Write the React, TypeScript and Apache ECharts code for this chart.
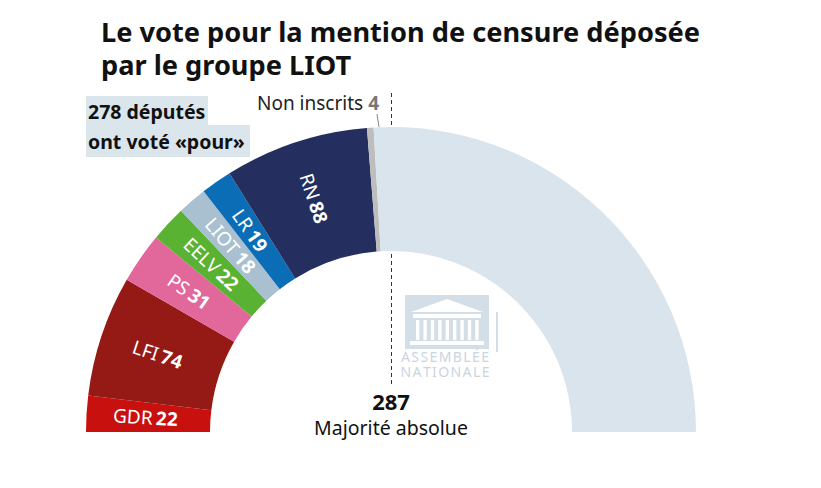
import React, { useEffect, useRef } from "react";
import * as echarts from "echarts";

const groups = ["GDR", "LFI", "PS", "EELV", "LIOT", "LR", "RN", "Non inscrits"];
const seats = [22, 74, 31, 22, 18, 19, 88, 4];
const groupColors = ["#c8100f", "#951914", "#e2679b", "#5ab232", "#a8c0cf", "#0b6db6", "#252f5f", "#bdbdbd"];
const totalSeats = 577;
const majority = 287;
const restColor = "#dae4ec";
const titleLines = ["Le vote pour la mention de censure déposée", "par le groupe LIOT"];
const logoLines = ["ASSEMBLÉE", "NATIONALE"];

const FONT = "'Noto Sans', sans-serif";

export default function App() {
  const ref = useRef<HTMLDivElement>(null);
  useEffect(() => {
    if (!ref.current) return;
    const chart = echarts.init(ref.current, null, { renderer: "svg" });
    const votedFor = seats.reduce((a, b) => a + b, 0);
    const rest = totalSeats - votedFor;
    const cx = 391;
    const cy = 432;
    const rIn = 181;
    const rOut = 305;

    const data = groups.map((g, i) => ({
      name: g,
      value: seats[i],
      itemStyle: { color: groupColors[i] },
      label: { show: g !== "Non inscrits" },
    }));
    data.push({ name: "rest", value: rest, itemStyle: { color: restColor }, label: { show: false } });

    const niIdx = groups.indexOf("Non inscrits");
    const niSeats = seats[niIdx];

    const logoText = logoLines.map((l) => l.split("").join("\u200A")).join("\n");

    chart.setOption({
      animation: false,
      title: {
        text: titleLines.join("\n"),
        left: 96,
        top: 10,
        textStyle: { fontFamily: FONT, fontSize: 27.2, fontWeight: "bold", color: "#111", lineHeight: 33 },
      },
      series: [
        {
          type: "pie",
          center: [cx, cy],
          radius: [rIn, rOut],
          startAngle: 180,
          endAngle: 0,
          clockwise: true,
          silent: true,
          sort: null,
          data,
          itemStyle: { borderWidth: 0 },
          label: {
            position: "inside",
            rotate: "radial",
            formatter: "{n|{b}} {v|{c}}",
            color: "#fff",
            rich: {
              n: { fontFamily: FONT, fontSize: 19, color: "#fff" },
              v: { fontFamily: FONT, fontSize: 19, color: "#fff", fontWeight: "bold" },
            },
          },
          labelLine: { show: false },
        },
      ],
      graphic: [
        // majority line
        {
          type: "line",
          shape: { x1: cx + 0.5, y1: 93, x2: cx + 0.5, y2: 386 },
          style: { stroke: "#333", lineWidth: 1, lineDash: [4, 3] },
        },
        {
          type: "text",
          x: cx,
          y: 401,
          style: { text: String(majority), fontFamily: FONT, fontSize: 22, fontWeight: "bold", fill: "#111", align: "center", verticalAlign: "middle" },
        },
        {
          type: "text",
          x: cx,
          y: 427,
          style: { text: "Majorité absolue", fontFamily: FONT, fontSize: 19.5, fill: "#111", align: "center", verticalAlign: "middle" },
        },
        // non inscrits label
        {
          type: "text",
          x: 379,
          y: 103,
          style: {
            text: "{n|Non inscrits }{v|" + niSeats + "}",
            align: "right",
            verticalAlign: "middle",
            rich: {
              n: { fontFamily: FONT, fontSize: 19, fill: "#222" },
              v: { fontFamily: FONT, fontSize: 19, fill: "#777", fontWeight: "bold" },
            },
          },
        },
        {
          type: "line",
          shape: { x1: 377, y1: 114, x2: 379, y2: 127 },
          style: { stroke: "#888", lineWidth: 1 },
        },
        // voted-for box
        { type: "rect", shape: { x: 86, y: 96, width: 122, height: 29 }, style: { fill: "#dbe5ec" } },
        { type: "rect", shape: { x: 86, y: 125, width: 164, height: 32 }, style: { fill: "#dbe5ec" } },
        {
          type: "text",
          x: 88,
          y: 111,
          style: { text: votedFor + " députés", fontFamily: FONT, fontSize: 19.5, fontWeight: "bold", fill: "#111", verticalAlign: "middle" },
        },
        {
          type: "text",
          x: 88,
          y: 141,
          style: { text: "ont voté «pour»", fontFamily: FONT, fontSize: 19.5, fontWeight: "bold", fill: "#111", verticalAlign: "middle" },
        },
        // Assemblée nationale watermark
        {
          type: "group",
          x: 0,
          y: 0,
          silent: true,
          children: [
            { type: "rect", shape: { x: 405, y: 295, width: 84, height: 54 }, style: { fill: "#d3dee7" } },
            { type: "polygon", shape: { points: [[411, 312], [447, 299], [483, 312]] }, style: { fill: "#fff" } },
            { type: "rect", shape: { x: 413, y: 314, width: 68, height: 4 }, style: { fill: "#fff" } },
            ...[0, 1, 2, 3, 4, 5, 6, 7, 8].map((k) => ({
              type: "rect",
              shape: { x: 416 + k * 7.4, y: 320, width: 3.4, height: 20 },
              style: { fill: "#fff" },
            })),
            { type: "rect", shape: { x: 410, y: 341, width: 74, height: 4 }, style: { fill: "#fff" } },
            { type: "rect", shape: { x: 496, y: 312, width: 2, height: 40 }, style: { fill: "#d3dee7" } },
            {
              type: "text",
              x: 445,
              y: 364,
              style: { text: logoText, fontFamily: FONT, fontSize: 14, lineHeight: 15, fill: "#c9d6e0", align: "center", verticalAlign: "middle" },
            },
          ],
        },
      ],
    });
    return () => chart.dispose();
  }, []);
  return <div ref={ref} style={{ position: "fixed", left: 0, top: 0, width: 821, height: 488, background: "#fff" }} />;
}
